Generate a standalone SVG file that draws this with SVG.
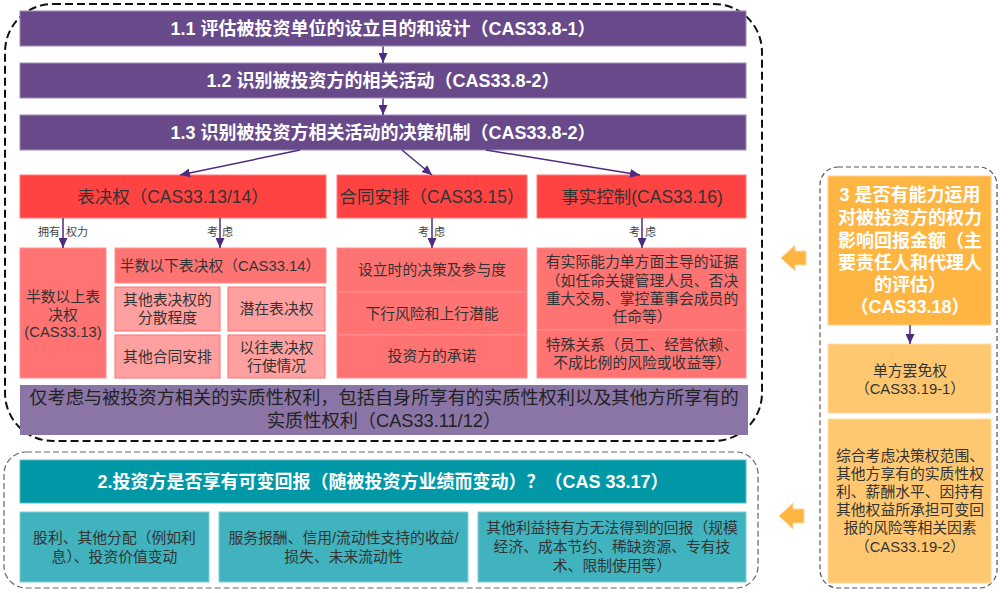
<svg xmlns="http://www.w3.org/2000/svg" width="1008" height="593" viewBox="0 0 1008 593">
<defs>
<marker id="ah" markerUnits="userSpaceOnUse" markerWidth="10" markerHeight="9" refX="10" refY="4.5" orient="auto"><path d="M0,0 L10,4.5 L0,9 z" fill="#4B2C7F"/></marker>
<style>
text{font-family:"Liberation Sans","Noto Sans CJK SC",sans-serif;text-anchor:middle;dominant-baseline:central}
.bar{fill:#684A8A;stroke:#9E8BB8;stroke-width:1}
.bt{fill:#fff;font-size:18px;font-weight:bold}
.rh{fill:#FF4343;stroke:#FF7A7A;stroke-width:1}
.rht{fill:#333;font-size:17.5px}
.rs{fill:#FF7373;stroke:#FF9090;stroke-width:1}
.rl{fill:#FFA0A0;stroke:#FF6E6E;stroke-width:1}
.st{fill:#333;font-size:14.8px}
.lb{fill:#444;font-size:11px}
.tl{fill:#0098A6;stroke:#5BC0C9;stroke-width:1}
.ts{fill:#40B3BE;stroke:#7FD0D7;stroke-width:1}
.oh{fill:#FFB541;stroke:#FFD08A;stroke-width:1}
.os{fill:#FFC870;stroke:#FFDDA0;stroke-width:1}
.ot{fill:#fff;font-size:18px;font-weight:bold}
.con line{stroke:#4B2C7F;stroke-width:1.5;marker-end:url(#ah)}
.oa{fill:#FFB541;stroke:#FFD9A0;stroke-width:1}
</style>
</defs>
<rect width="1008" height="593" fill="#fff"/>
<!-- containers -->
<rect id="outer1" x="5" y="4" width="757" height="437" rx="48" fill="none" stroke="#111" stroke-width="2" stroke-dasharray="8,4"/>
<rect id="outer2" x="4" y="452" width="754" height="136" rx="22" fill="none" stroke="#666" stroke-width="1.2" stroke-dasharray="6,3"/>
<rect id="outer3" x="820" y="167" width="177" height="421" rx="18" fill="none" stroke="#555" stroke-width="1.2" stroke-dasharray="5,3"/>

<g id="n11"><rect class="bar" x="20" y="11" width="726" height="35"/><text class="bt" x="383" y="28.5">1.1 评估被投资单位的设立目的和设计（CAS33.8-1）</text></g>
<g id="n12"><rect class="bar" x="20" y="63" width="726" height="35"/><text class="bt" x="383" y="80.5">1.2 识别被投资方的相关活动（CAS33.8-2）</text></g>
<g id="n13"><rect class="bar" x="20" y="115" width="726" height="35"/><text class="bt" x="383" y="132.5">1.3 识别被投资方相关活动的决策机制（CAS33.8-2）</text></g>

<g id="vote"><rect class="rh" x="20" y="175" width="306" height="43"/><text class="rht" x="173" y="196.5">表决权（CAS33.13/14）</text></g>
<g id="contract"><rect class="rh" x="337" y="175" width="190" height="43"/><text class="rht" x="432" y="196.5">合同安排（CAS33.15）</text></g>
<g id="defacto"><rect class="rh" x="537" y="175" width="209" height="43"/><text class="rht" x="642" y="196.5">事实控制(CAS33.16)</text></g>

<g id="v1"><rect class="rs" x="20" y="248" width="86" height="130"/><text class="st" x="63" y="297">半数以上表</text><text class="st" x="63" y="315">决权</text><text class="st" x="63" y="332">(CAS33.13)</text></g>
<g id="v2"><rect class="rs" x="115" y="248" width="211" height="35"/><text class="st" x="220" y="265.5">半数以下表决权（CAS33.14）</text></g>
<g id="v3"><rect class="rl" x="115" y="287" width="105" height="44"/><text class="st" x="167.5" y="300">其他表决权的</text><text class="st" x="167.5" y="318">分散程度</text></g>
<g id="v4"><rect class="rl" x="228" y="287" width="97" height="44"/><text class="st" x="276.5" y="309">潜在表决权</text></g>
<g id="v5"><rect class="rl" x="115" y="335" width="105" height="43"/><text class="st" x="167.5" y="357">其他合同安排</text></g>
<g id="v6"><rect class="rl" x="228" y="335" width="97" height="43"/><text class="st" x="276.5" y="348">以往表决权</text><text class="st" x="276.5" y="366">行使情况</text></g>

<g id="c1"><rect class="rs" x="337" y="248" width="190" height="44"/><text class="st" x="432" y="270">设立时的决策及参与度</text></g>
<g id="c2"><rect class="rs" x="337" y="292" width="190" height="43"/><text class="st" x="432" y="314">下行风险和上行潜能</text></g>
<g id="c3"><rect class="rs" x="337" y="335" width="190" height="43"/><text class="st" x="432" y="356">投资方的承诺</text></g>

<g id="d1"><rect class="rs" x="537" y="248" width="209" height="82"/><text class="st" x="642" y="262">有实际能力单方面主导的证据</text><text class="st" x="642" y="281">（如任命关键管理人员、否决</text><text class="st" x="642" y="299">重大交易、掌控董事会成员的</text><text class="st" x="642" y="317">任命等）</text></g>
<g id="d2"><rect class="rs" x="537" y="330" width="209" height="48"/><text class="st" x="642" y="345">特殊关系（员工、经营依赖、</text><text class="st" x="642" y="363">不成比例的风险或收益等）</text></g>

<g id="rights"><rect x="20" y="385" width="728" height="50" fill="#8B75A6"/><text fill="#222" font-size="18.2px" x="384" y="398">仅考虑与被投资方相关的实质性权利，包括自身所享有的实质性权利以及其他方所享有的</text><text fill="#222" font-size="18.2px" x="384" y="421">实质性权利（CAS33.11/12）</text></g>

<g id="n2"><rect class="tl" x="20" y="460" width="726" height="43"/><text class="bt" x="383" y="481.5">2.投资方是否享有可变回报（随被投资方业绩而变动）？（CAS 33.17）</text></g>
<g id="t1"><rect class="ts" x="20" y="512" width="189" height="70"/><text class="st" x="114.5" y="538">股利、其他分配（例如利</text><text class="st" x="114.5" y="557">息）、投资价值变动</text></g>
<g id="t2"><rect class="ts" x="219" y="512" width="249" height="70"/><text class="st" x="343.5" y="538">服务报酬、信用/流动性支持的收益/</text><text class="st" x="343.5" y="557">损失、未来流动性</text></g>
<g id="t3"><rect class="ts" x="478" y="512" width="268" height="70"/><text class="st" x="612" y="528">其他利益持有方无法得到的回报（规模</text><text class="st" x="612" y="547">经济、成本节约、稀缺资源、专有技</text><text class="st" x="612" y="566">术、限制使用等）</text></g>

<g id="n3"><rect class="oh" x="828" y="176" width="163" height="149"/>
<text class="ot" x="910" y="195">3 是否有能力运用</text><text class="ot" x="910" y="218">对被投资方的权力</text><text class="ot" x="910" y="241">影响回报金额（主</text><text class="ot" x="910" y="263">要责任人和代理人</text><text class="ot" x="910" y="285">的评估）</text><text class="ot" x="910" y="307">（CAS33.18）</text></g>
<g id="o1"><rect class="os" x="828" y="344" width="163" height="69"/><text class="st" x="910" y="371">单方罢免权</text><text class="st" x="910" y="389">（CAS33.19-1）</text></g>
<g id="o2"><rect class="os" x="828" y="419" width="163" height="164"/>
<text class="st" x="910" y="456">综合考虑决策权范围、</text><text class="st" x="910" y="474">其他方享有的实质性权</text><text class="st" x="910" y="492">利、薪酬水平、因持有</text><text class="st" x="910" y="510">其他权益所承担可变回</text><text class="st" x="910" y="528">报的风险等相关因素</text><text class="st" x="910" y="547">（CAS33.19-2）</text></g>

<g id="connectors" class="con">
<line x1="383" y1="46.5" x2="383" y2="63"/>
<line x1="383" y1="98.5" x2="383" y2="115"/>
<line x1="300" y1="150" x2="180" y2="175"/>
<line x1="402" y1="150" x2="432" y2="175"/>
<line x1="486" y1="150" x2="640" y2="175"/>
<line x1="63" y1="218" x2="63" y2="248"/>
<line x1="220" y1="218" x2="220" y2="248"/>
<line x1="432" y1="218" x2="432" y2="248"/>
<line x1="642" y1="218" x2="642" y2="248"/>
<line x1="910" y1="325" x2="910" y2="344"/>
<polygon class="oa" points="781,258 795,245 795,251 806,251 806,265 795,265 795,271"/>
<polygon class="oa" points="779,516 793,503 793,509 804,509 804,523 793,523 793,529"/>
</g>
<g id="labels">
<text class="lb" x="60" y="232" style="text-anchor:end">拥有</text><text class="lb" x="66" y="232" style="text-anchor:start">权力</text>
<text class="lb" x="218" y="232" style="text-anchor:end">考</text><text class="lb" x="222" y="232" style="text-anchor:start">虑</text>
<text class="lb" x="429" y="232" style="text-anchor:end">考</text><text class="lb" x="434" y="232" style="text-anchor:start">虑</text>
<text class="lb" x="640" y="232" style="text-anchor:end">考</text><text class="lb" x="645" y="232" style="text-anchor:start">虑</text>
</g>
</svg>
